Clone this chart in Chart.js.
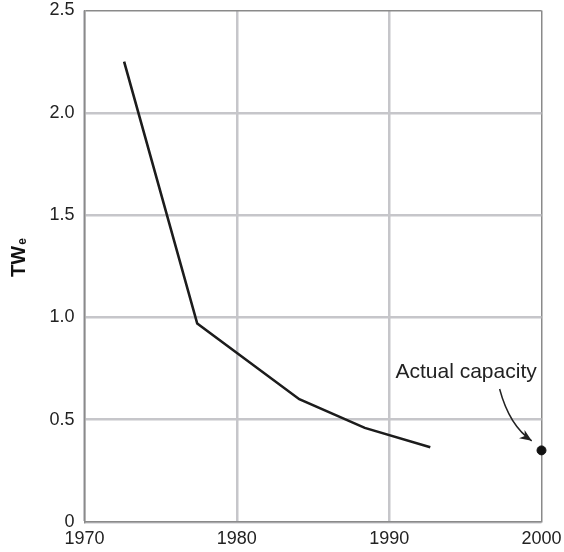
<!DOCTYPE html>
<html>
<head>
<meta charset="utf-8">
<script src="https://cdn.jsdelivr.net/npm/chart.js@4/dist/chart.umd.min.js"></script>
<style>
    html, body { margin: 0; padding: 0; background: #fff; }
</style>
</head>
<body>
<canvas id="capacityChart" width="564" height="552"></canvas>
<script>
// 곡선 데이터 (연도, TWe)
const years = [1972.6, 1977.4, 1984.1, 1988.4, 1992.7];
const capacityTWe = [2.25, 0.97, 0.60, 0.46, 0.365];

// 실제 설비용량
const actualYears = [2000];
const actualTWe = [0.35];

// 축 눈금
const xTicks = [1970, 1980, 1990, 2000];
const yTicks = [0, 0.5, 1.0, 1.5, 2.0, 2.5];

// 주석 (데이터 단위)
const noteText = 'Actual capacity';
const notePos = [1995.05, 0.704];
const arrowFrom = [1997.25, 0.65];
const arrowBend = [1997.9, 0.47];
const arrowTo = [1999.36, 0.397];

const FONT = '"Liberation Sans", Arial, Helvetica, sans-serif';
const gridColor = '#c6c6ca';
const borderColor = '#8a8a8a';

/**
 * 주석 + 화살표
 */
const notePlugin = {
    id: 'notePlugin',
    afterDatasetsDraw(chart) {
        const ctx = chart.ctx;
        const x = chart.scales.x, y = chart.scales.y;
        ctx.save();
        ctx.font = '21px ' + FONT;
        ctx.fillStyle = '#222';
        ctx.textAlign = 'center';
        ctx.textBaseline = 'alphabetic';
        ctx.fillText(noteText, x.getPixelForValue(notePos[0]), y.getPixelForValue(notePos[1]));

        const sx = x.getPixelForValue(arrowFrom[0]), sy = y.getPixelForValue(arrowFrom[1]);
        const cx = x.getPixelForValue(arrowBend[0]), cy = y.getPixelForValue(arrowBend[1]);
        const ex = x.getPixelForValue(arrowTo[0]), ey = y.getPixelForValue(arrowTo[1]);
        ctx.strokeStyle = '#222';
        ctx.lineWidth = 1.5;
        ctx.beginPath();
        ctx.moveTo(sx, sy);
        ctx.quadraticCurveTo(cx, cy, ex, ey);
        ctx.stroke();

        const ang = Math.atan2(ey - cy, ex - cx);
        const len = 12, wid = 5;
        ctx.fillStyle = '#222';
        ctx.beginPath();
        ctx.moveTo(ex, ey);
        ctx.lineTo(ex - len * Math.cos(ang) + wid * Math.sin(ang), ey - len * Math.sin(ang) - wid * Math.cos(ang));
        ctx.lineTo(ex - len * 0.7 * Math.cos(ang), ey - len * 0.7 * Math.sin(ang));
        ctx.lineTo(ex - len * Math.cos(ang) - wid * Math.sin(ang), ey - len * Math.sin(ang) + wid * Math.cos(ang));
        ctx.closePath();
        ctx.fill();
        ctx.restore();
    }
};

/**
 * y축 제목 TWe (아래첨자)
 */
const yTitlePlugin = {
    id: 'yTitlePlugin',
    afterDraw(chart) {
        const ctx = chart.ctx;
        ctx.save();
        ctx.translate(25, 258);
        ctx.rotate(-Math.PI / 2);
        ctx.fillStyle = '#111';
        ctx.textBaseline = 'alphabetic';
        ctx.font = 'bold 20px ' + FONT;
        const mainW = ctx.measureText('TW').width;
        ctx.font = 'bold 12px ' + FONT;
        const subW = ctx.measureText('e').width;
        const start = -(mainW + subW) / 2;
        ctx.font = 'bold 20px ' + FONT;
        ctx.fillText('TW', start, 0);
        ctx.font = 'bold 12px ' + FONT;
        ctx.fillText('e', start + mainW + 1, 1);
        ctx.restore();
    }
};

function setCapacityConfig() {
    let config = {
        type: 'line',
        data: {
            datasets: [{
                label: 'Projected',
                data: years.map((v, i) => ({ x: v, y: capacityTWe[i] })),
                borderColor: '#1c1c1c',
                borderWidth: 2.6,
                pointRadius: 0,
                tension: 0,
                fill: false
            }, {
                label: 'Actual capacity',
                type: 'scatter',
                data: actualYears.map((v, i) => ({ x: v, y: actualTWe[i] })),
                backgroundColor: '#111',
                borderColor: '#111',
                pointRadius: 4.5,
                clip: false
            }]
        },
        options: {
            responsive: false,
            animation: { duration: 0 },
            layout: { padding: { top: 10.5, right: 22.5, left: 0, bottom: 0 } },
            plugins: {
                legend: { display: false },
                tooltip: { enabled: false }
            },
            scales: {
                x: {
                    type: 'linear',
                    min: 1970,
                    max: 2000,
                    afterBuildTicks: axis => { axis.ticks = xTicks.map(v => ({ value: v })); },
                    afterFit: axis => {
                        axis.height = 30;
                        axis.paddingLeft = 0;
                        axis.paddingRight = 0;
                    },
                    ticks: {
                        color: '#222',
                        font: { family: FONT, size: 18 },
                        padding: 6,
                        maxRotation: 0,
                        autoSkip: false,
                        callback: v => String(v)
                    },
                    grid: {
                        color: c => (c.tick && c.tick.value === 2000) ? borderColor : gridColor,
                        lineWidth: c => (c.tick && c.tick.value === 2000) ? 1.5 : 2.5,
                        drawTicks: false
                    },
                    border: { display: true, color: borderColor, width: 1.5 }
                },
                y: {
                    min: 0,
                    max: 2.5,
                    afterBuildTicks: axis => { axis.ticks = yTicks.map(v => ({ value: v })); },
                    afterFit: axis => {
                        axis.width = 84.5;
                        axis.paddingTop = 0;
                        axis.paddingBottom = 0;
                    },
                    ticks: {
                        color: '#222',
                        font: { family: FONT, size: 18 },
                        padding: 10,
                        callback: v => v === 0 ? '0' : v.toFixed(1)
                    },
                    grid: {
                        color: c => (c.tick && c.tick.value === 2.5) ? borderColor : gridColor,
                        lineWidth: c => (c.tick && c.tick.value === 2.5) ? 1.5 : 2.5,
                        drawTicks: false
                    },
                    border: { display: true, color: borderColor, width: 1.5 }
                }
            }
        },
        plugins: [notePlugin, yTitlePlugin]
    };
    return config;
}

document.addEventListener('DOMContentLoaded', function () {
    new Chart(document.getElementById('capacityChart'), setCapacityConfig());
});
</script>
</body>
</html>
